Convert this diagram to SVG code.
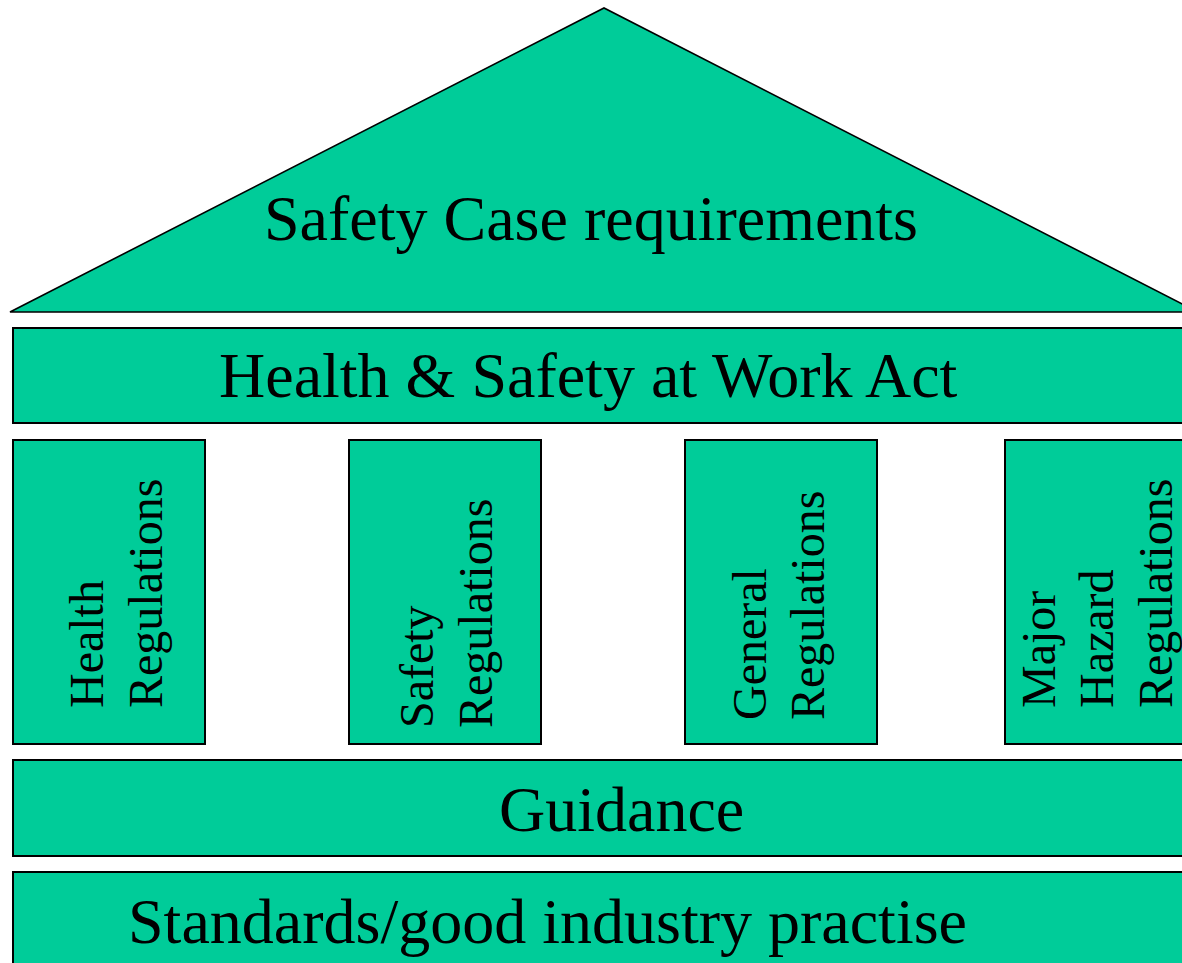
<svg xmlns="http://www.w3.org/2000/svg" width="1182" height="963" viewBox="0 0 1182 963">
<style>
.box{fill:#00CC99;stroke:#000;stroke-width:2}
.roof{fill:#00CC99;stroke:#000;stroke-width:1.6}
.t{font-family:"Liberation Serif","Times New Roman",serif;font-size:64px;fill:#000}
.v{font-family:"Liberation Serif","Times New Roman",serif;font-size:48px;fill:#000}
</style>
<rect width="1182" height="963" fill="#fff"/>
<g id="roof">
<polygon class="roof" points="10,312 604,8 1198,312"/>
<text class="t" x="264" y="240">Safety Case requirements</text>
</g>
<g id="act">
<rect class="box" x="13" y="328" width="1190" height="95"/>
<text class="t" x="219" y="397">Health &amp; Safety at Work Act</text>
</g>
<g id="health-regs">
<rect class="box" x="13" y="440" width="192" height="304"/>
<text class="v" transform="translate(103,708) rotate(-90)">Health</text>
<text class="v" transform="translate(162,708) rotate(-90)">Regulations</text>
</g>
<g id="safety-regs">
<rect class="box" x="349" y="440" width="192" height="304"/>
<text class="v" transform="translate(433,728) rotate(-90)">Safety</text>
<text class="v" transform="translate(492,728) rotate(-90)">Regulations</text>
</g>
<g id="general-regs">
<rect class="box" x="685" y="440" width="192" height="304"/>
<text class="v" transform="translate(766,720) rotate(-90)">General</text>
<text class="v" transform="translate(824,720) rotate(-90)">Regulations</text>
</g>
<g id="major-hazard-regs">
<rect class="box" x="1005" y="440" width="192" height="304"/>
<text class="v" transform="translate(1055,708) rotate(-90)">Major</text>
<text class="v" transform="translate(1113,708) rotate(-90)">Hazard</text>
<text class="v" transform="translate(1172,708) rotate(-90)">Regulations</text>
</g>
<g id="guidance">
<rect class="box" x="13" y="760" width="1190" height="96"/>
<text class="t" x="499" y="831">Guidance</text>
</g>
<g id="standards">
<rect class="box" x="13" y="872" width="1190" height="120"/>
<text class="t" x="128" y="943">Standards/good industry practise</text>
</g>
<g id="connectors"/>
</svg>
